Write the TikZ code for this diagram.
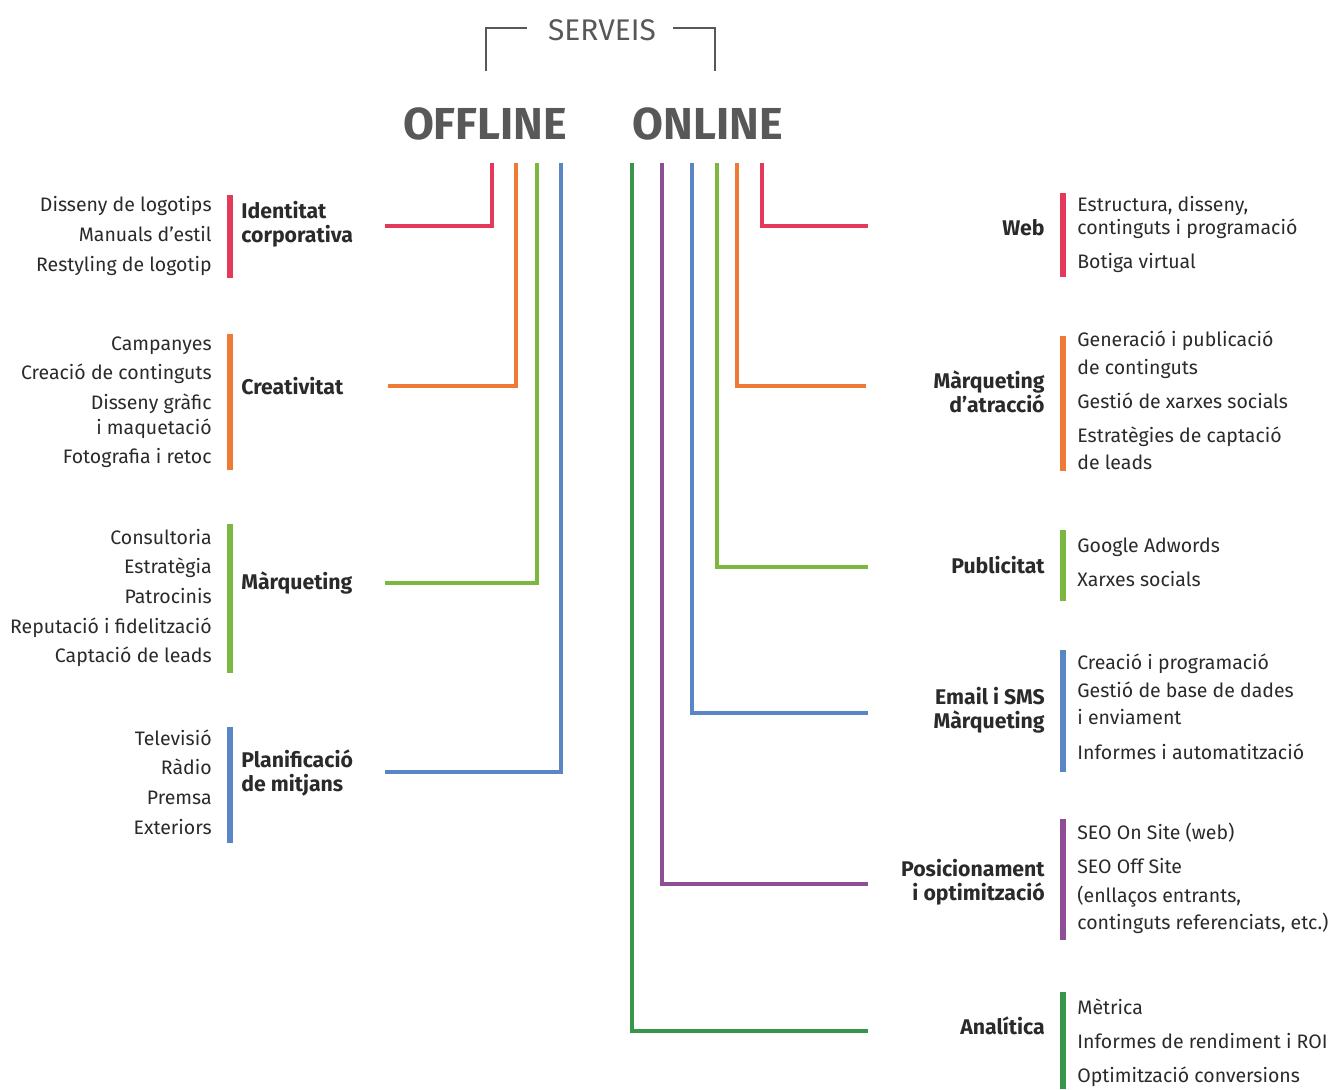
\documentclass[tikz,border=0pt]{standalone}
\usepackage{fontspec}
\setmainfont{Fira Sans}
\usetikzlibrary{positioning}
\definecolor{idred}{HTML}{E5395C}
\definecolor{crorange}{HTML}{EE7A35}
\definecolor{mkgreen}{HTML}{7AB83F}
\definecolor{plblue}{HTML}{5A86C5}
\definecolor{angreen}{HTML}{38964A}
\definecolor{popurple}{HTML}{8D4E95}
\definecolor{titgray}{HTML}{585858}
\definecolor{txtgray}{HTML}{2A2A2A}

\tikzset{
	item/.style={font=\fontsize{11.1}{12}\selectfont, text=txtgray, inner sep=0pt, text height=1.6ex, text depth=0.45ex},
	group/.style={font=\bfseries\fontsize{12.1}{13.6}\selectfont, text=txtgray, inner sep=0pt},
	bar/.style={line width=3.4pt},
	link/.style={line width=2.2pt},
	bracket/.style={titgray, line width=1.1pt}
}

\begin{document}
\begin{tikzpicture}[x=0.02cm, y=-0.02cm]
	\useasboundingbox (0,0) rectangle (1335,1089);
	% heading
	\node[font=\fontsize{17}{18}\selectfont, text=titgray] (serveis) at (602,30) {SERVEIS};
	\draw[bracket] (486,71) |- (527,28);
	\draw[bracket] (673,28) -| (715,71);
	\node[font=\bfseries\fontsize{25.5}{26}\selectfont, text=titgray] (offline) at (485,124) {OFFLINE};
	\node[font=\bfseries\fontsize{25.5}{26}\selectfont, text=titgray] (online) at (708,124) {ONLINE};

	% offline groups
	\node[group, anchor=west, align=left] (ident) at (241,224) {Identitat\\corporativa};
	\draw[bar, idred] (230,195) -- (230,278);
	\foreach \y/\t [count=\i] in {206/Disseny de logotips, 236/Manuals d’estil, 266/Restyling de logotip}
		\node[item, anchor=east] (ident-\i) at (212,\y) {\t};

	\node[group, anchor=west] (crea) at (241,386) {Creativitat};
	\draw[bar, crorange] (230,334) -- (230,470);
	\foreach \y/\t [count=\i] in {345/Campanyes, 374/Creació de continguts, 404/Disseny gràfic, 429/i maquetació, 458/Fotografia i retoc}
		\node[item, anchor=east] (crea-\i) at (212,\y) {\t};

	\node[group, anchor=west] (mark) at (241,583) {Màrqueting};
	\draw[bar, mkgreen] (230,524) -- (230,673);
	\foreach \y/\t [count=\i] in {539/Consultoria, 568/Estratègia, 598/Patrocinis, 628/Reputació i fidelització, 657/Captació de leads}
		\node[item, anchor=east] (mark-\i) at (212,\y) {\t};

	\node[group, anchor=west, align=left] (plan) at (241,773) {Planificació\\de mitjans};
	\draw[bar, plblue] (230,727) -- (230,843);
	\foreach \y/\t [count=\i] in {740/Televisió, 769/Ràdio, 799/Premsa, 829/Exteriors}
		\node[item, anchor=east] (plan-\i) at (212,\y) {\t};

	% online groups
	\node[group, anchor=east] (web) at (1045,228) {Web};
	\draw[bar, idred] (1063,193) -- (1063,277);
	\foreach \y/\t [count=\i] in {206/{Estructura, disseny,}, 229/continguts i programació, 263/Botiga virtual}
		\node[item, anchor=west] (web-\i) at (1077,\y) {\t};

	\node[group, anchor=east, align=right] (atrac) at (1045,392) {Màrqueting\\d’atracció};
	\draw[bar, crorange] (1063,336) -- (1063,471);
	\foreach \y/\t [count=\i] in {341/Generació i publicació, 369/de continguts, 403/Gestió de xarxes socials, 437/Estratègies de captació, 464/de leads}
		\node[item, anchor=west] (atrac-\i) at (1077,\y) {\t};

	\node[group, anchor=east] (publi) at (1045,565) {Publicitat};
	\draw[bar, mkgreen] (1063,530) -- (1063,601);
	\foreach \y/\t [count=\i] in {547/Google Adwords, 581/Xarxes socials}
		\node[item, anchor=west] (publi-\i) at (1077,\y) {\t};

	\node[group, anchor=east, align=right] (email) at (1045,710) {Email i SMS\\Màrqueting};
	\draw[bar, plblue] (1063,650) -- (1063,772);
	\foreach \y/\t [count=\i] in {664/Creació i programació, 692/Gestió de base de dades, 719/i enviament, 754/Informes i automatització}
		\node[item, anchor=west] (email-\i) at (1077,\y) {\t};

	\node[group, anchor=east, align=right] (posic) at (1045,882) {Posicionament\\i optimització};
	\draw[bar, popurple] (1063,819) -- (1063,940);
	\foreach \y/\t [count=\i] in {834/SEO On Site (web), 868/SEO Off Site, 897/{(enllaços entrants,}, 924/{continguts referenciats, etc.)}}
		\node[item, anchor=west] (posic-\i) at (1077,\y) {\t};

	\node[group, anchor=east] (anal) at (1045,1026) {Analítica};
	\draw[bar, angreen] (1063,992) -- (1063,1089);
	\foreach \y/\t [count=\i] in {1009/Mètrica, 1043/Informes de rendiment i ROI, 1077/Optimització conversions}
		\node[item, anchor=west] (anal-\i) at (1077,\y) {\t};

	% links
	\coordinate (off-id) at (492,163);  \coordinate (ident-in) at (385,226);
	\coordinate (off-cr) at (516,163);  \coordinate (crea-in) at (388,386);
	\coordinate (off-mk) at (537,163);  \coordinate (mark-in) at (385,583);
	\coordinate (off-pl) at (561,163);  \coordinate (plan-in) at (385,772);
	\coordinate (on-an) at (632,163);   \coordinate (anal-in) at (868,1031);
	\coordinate (on-po) at (662,163);   \coordinate (posic-in) at (868,884);
	\coordinate (on-em) at (692,163);   \coordinate (email-in) at (868,713);
	\coordinate (on-pu) at (717,163);   \coordinate (publi-in) at (868,567);
	\coordinate (on-at) at (737,163);   \coordinate (atrac-in) at (866,386);
	\coordinate (on-we) at (762,163);   \coordinate (web-in) at (868,226);

	\draw[link, idred] (off-id) |- (ident-in);
	\draw[link, crorange] (off-cr) |- (crea-in);
	\draw[link, mkgreen] (off-mk) |- (mark-in);
	\draw[link, plblue] (off-pl) |- (plan-in);
	\draw[link, angreen] (on-an) |- (anal-in);
	\draw[link, popurple] (on-po) |- (posic-in);
	\draw[link, plblue] (on-em) |- (email-in);
	\draw[link, mkgreen] (on-pu) |- (publi-in);
	\draw[link, crorange] (on-at) |- (atrac-in);
	\draw[link, idred] (on-we) |- (web-in);
\end{tikzpicture}
\end{document}
